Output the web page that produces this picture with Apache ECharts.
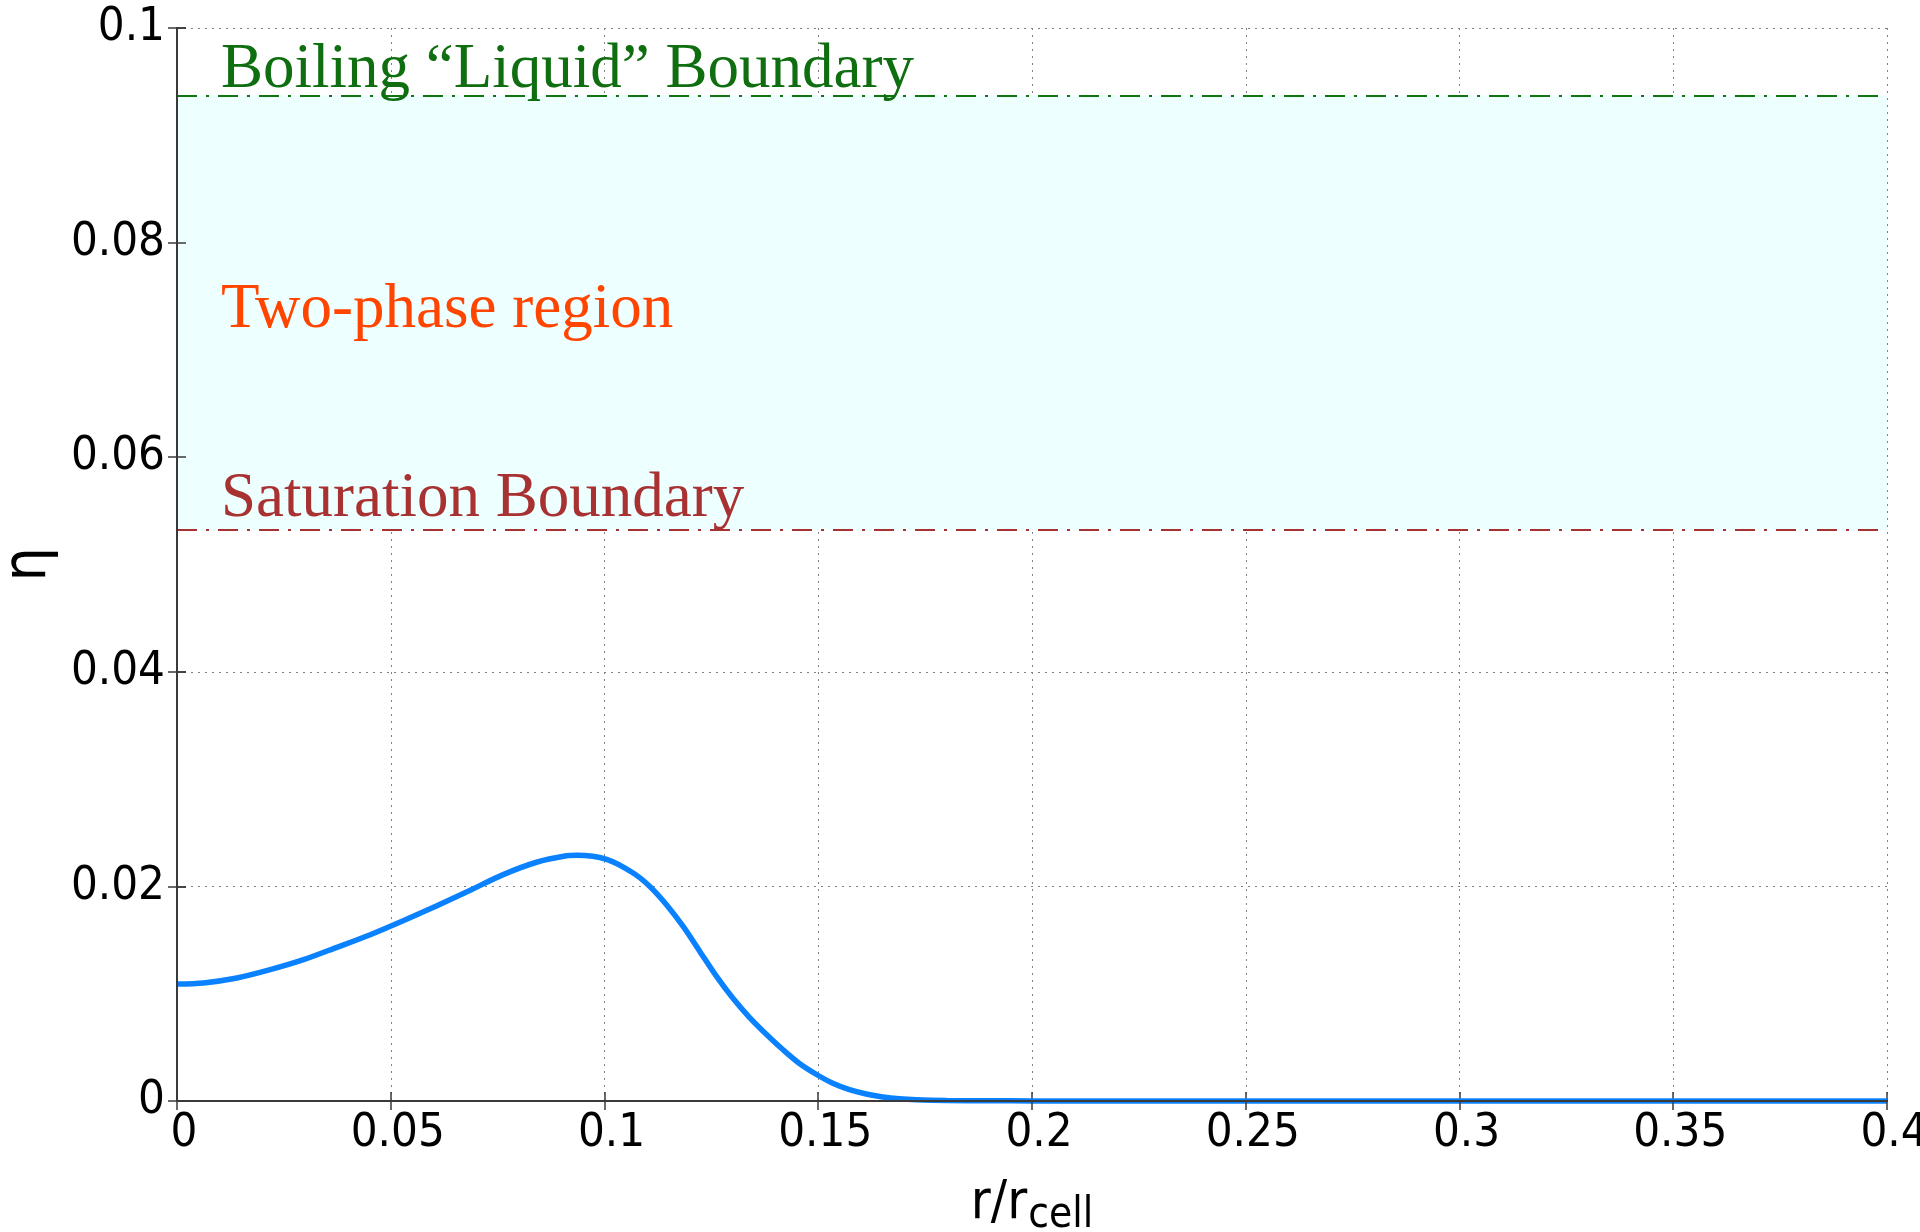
<!DOCTYPE html>
<html>
<head>
<meta charset="utf-8">
<title>η profile</title>
<script src="https://cdn.jsdelivr.net/npm/echarts@6/dist/echarts.min.js"></script>
<style>
  html, body { margin: 0; padding: 0; background: #ffffff; }
  #chart { width: 1920px; height: 1232px; }
</style>
</head>
<body>
<div id="chart"></div>
<script>
// Radial position r / r_cell
const rValues = [
  0, 0.0062, 0.014, 0.0218, 0.0296, 0.0374, 0.0452, 0.0529, 0.0608, 0.0686,
  0.0763, 0.0841, 0.0911, 0.0935, 0.1005, 0.1067, 0.1106, 0.1145, 0.1184, 0.1223,
  0.1262, 0.130, 0.1339, 0.1379, 0.1417, 0.1456, 0.1499, 0.1534, 0.1573, 0.1612,
  0.1651, 0.169, 0.1729, 0.18, 0.19, 0.2, 0.25, 0.3, 0.35, 0.4
];
// η along the radius
const etaValues = [
  0.0109, 0.0110, 0.01146, 0.01224, 0.01317, 0.01432, 0.0155, 0.0168, 0.0182, 0.01965,
  0.0211, 0.02225, 0.02285, 0.0229, 0.02252, 0.02125, 0.0200, 0.0183, 0.01627, 0.01394,
  0.01161, 0.0096, 0.0078, 0.0062, 0.0048, 0.0035, 0.0024, 0.00165, 0.00105, 0.00065,
  0.00038, 0.00021, 0.00012, 0.00005, 0.00002, 0.00001, 0, 0, 0, 0
];
// Phase boundaries (η)
const saturationEta = 0.0532;
const boilingEta = 0.0937;
const boundaryLabels = ['Saturation Boundary', 'Boiling \u201CLiquid\u201D Boundary'];
const regionLabel = 'Two-phase region';

const xAxisRange = [0, 0.4, 0.05];
const yAxisRange = [0, 0.1, 0.02];

const sansFont = "'DejaVu Sans Condensed', 'DejaVu Sans', sans-serif";
const serifFont = "'Liberation Serif', 'DejaVu Serif', serif";
const frameColor = '#3a3a3a';

const chart = echarts.init(document.getElementById('chart'), null, { renderer: 'canvas' });

const frameAxisCommon = {
  type: 'value',
  axisLine: { show: true, lineStyle: { color: frameColor, width: 2 } },
  axisTick: { show: true, inside: true, length: 9, lineStyle: { color: frameColor, width: 1.5 } },
  axisLabel: { show: false },
  splitLine: { show: false },
  z: 5
};

const option = {
  backgroundColor: '#ffffff',
  animation: false,
  grid: {
    left: 177, right: 33, top: 28, bottom: 131,
    containLabel: false,
    outerBoundsMode: 'none'
  },
  xAxis: [
    {
      type: 'value',
      min: xAxisRange[0], max: xAxisRange[1], interval: xAxisRange[2],
      position: 'bottom',
      name: '{a|r/r}{b|cell}',
      nameLocation: 'middle',
      nameGap: 70,
      nameTextStyle: {
        rich: {
          a: { fontFamily: sansFont, fontSize: 54, color: '#000' },
          b: { fontFamily: sansFont, fontSize: 42, color: '#000', padding: [24, 0, 0, 1] }
        }
      },
      axisLine: { show: true, onZero: false, lineStyle: { color: frameColor, width: 2 } },
      axisTick: { show: true, inside: true, length: 9, lineStyle: { color: frameColor, width: 1.5 } },
      axisLabel: {
        color: '#000', fontFamily: sansFont, fontSize: 47, margin: 9,
        padding: [0, 0, 0, 14]
      },
      splitLine: { show: true, lineStyle: { color: '#808080', width: 1, type: [2, 5] } },
      z: 0
    },
    Object.assign({}, frameAxisCommon, {
      min: xAxisRange[0], max: xAxisRange[1], interval: xAxisRange[2], position: 'top'
    })
  ],
  yAxis: [
    {
      type: 'value',
      min: yAxisRange[0], max: yAxisRange[1], interval: yAxisRange[2],
      position: 'left',
      name: 'η',
      nameLocation: 'middle',
      nameGap: 118,
      nameRotate: 90,
      nameTextStyle: { fontFamily: sansFont, fontSize: 60, color: '#000' },
      axisLine: { show: true, onZero: false, lineStyle: { color: frameColor, width: 2 } },
      axisTick: { show: true, inside: true, length: 9, lineStyle: { color: frameColor, width: 1.5 } },
      axisLabel: {
        color: '#000', fontFamily: sansFont, fontSize: 47, margin: 12,
        padding: [10, 0, 0, 0]
      },
      splitLine: { show: true, lineStyle: { color: '#808080', width: 1, type: [2, 5] } },
      z: 0
    },
    Object.assign({}, frameAxisCommon, {
      min: yAxisRange[0], max: yAxisRange[1], interval: yAxisRange[2], position: 'right'
    }),
    Object.assign({}, frameAxisCommon, {
      min: yAxisRange[0], max: yAxisRange[1], interval: yAxisRange[2], position: 'left', offset: 0
    })
  ],
  series: [
    {
      type: 'line',
      name: 'η',
      xAxisIndex: 0,
      yAxisIndex: 0,
      data: rValues.map((r, i) => [r, etaValues[i]]),
      showSymbol: false,
      smooth: 0.3,
      clip: false,
      lineStyle: { color: '#0A82FF', width: 5.5 },
      z: 3,
      markArea: {
        silent: true,
        itemStyle: { color: '#EEFFFF', opacity: 1, borderWidth: 0 },
        label: {
          show: true,
          position: [44, 183],
          fontFamily: serifFont,
          fontSize: 63,
          color: '#FF4500'
        },
        data: [[
          { name: regionLabel, coord: [xAxisRange[0], saturationEta] },
          { coord: [xAxisRange[1], boilingEta] }
        ]]
      },
      markLine: {
        silent: true,
        precision: 4,
        symbol: ['none', 'none'],
        data: [
          {
            yAxis: saturationEta,
            name: boundaryLabels[0],
            lineStyle: { color: '#A83232', width: 2, type: [20, 9, 3, 9] },
            label: {
              show: true, formatter: '{b}', position: 'insideStartTop', distance: [44, -1],
              fontFamily: serifFont, fontSize: 63, color: '#A83232'
            }
          },
          {
            yAxis: boilingEta,
            name: boundaryLabels[1],
            lineStyle: { color: '#127312', width: 2, type: [20, 9, 3, 9] },
            label: {
              show: true, formatter: '{b}', position: 'insideStartTop', distance: [44, -6.5],
              fontFamily: serifFont, fontSize: 63, color: '#0F6E0F'
            }
          }
        ]
      }
    }
  ]
};

chart.setOption(option);
</script>
</body>
</html>
